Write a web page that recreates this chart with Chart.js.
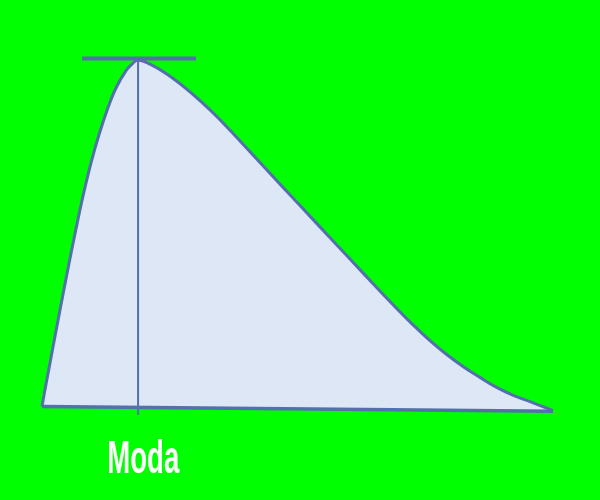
<!DOCTYPE html>
<html>
<head>
<meta charset="utf-8">
<script src="https://cdn.jsdelivr.net/npm/chart.js@4/dist/chart.umd.min.js"></script>
<style>
  html, body { margin: 0; padding: 0; background: #00ff00; }
  #wrap { width: 600px; height: 500px; }
</style>
</head>
<body>
<div id="wrap"><canvas id="chart"></canvas></div>
<script>
// Skewed distribution (x: value, y: relative density, peak = 100)
const curveX = [0, 0.045, 0.143, 0.274, 0.405, 0.534, 0.665, 0.796, 0.959, 1.121,
                1.286, 1.448, 1.644, 1.761, 1.879,
                2.178, 2.505, 2.831, 3.156, 3.419, 3.744, 4.397, 5.049, 5.701,
                6.354, 6.941, 7.266, 7.593, 7.920, 8.245, 8.571, 8.898, 9.223,
                9.550, 10.0];
const curveY = [0, 3.75, 11.5, 21.8, 31.9, 41.7, 51.2, 60.3, 70.3, 78.7,
                86.0, 91.9, 96.9, 98.8, 100,
                98.3, 95.3, 91.6, 87.4, 83.7, 78.7, 68.3, 58.0, 47.7,
                37.4, 28.3, 23.5, 19.0, 15.0, 11.5, 8.4, 5.5, 3.2,
                1.4, -1.2];

// baseline of the shape (slightly tilted in the original)
const baseX = [0, 10.0];
const baseY = [0, -1.35];

// mode marker
const modeX = 1.88;
const modePeak = 100;
const modeFoot = -2.45;
const tangentX = [0.783, 3.014];
const tangentY = 100.4;
const modeLabel = 'Moda';
const labelX = 1.982;
const labelBase = -19.1;

const STROKE = '#5470ac';
const FILL = '#dde7f5';

const pts = (xs, ys) => xs.map((x, i) => ({ x, y: Array.isArray(ys) ? ys[i] : ys }));

const labelPlugin = {
  id: 'modaLabel',
  afterDraw(chart) {
    const { ctx, scales } = chart;
    const px = scales.x.getPixelForValue(labelX);
    const py = scales.y.getPixelForValue(labelBase);
    ctx.save();
    ctx.font = 'bold 32px "Liberation Sans Narrow", "Liberation Sans", Arial, sans-serif';
    const w = ctx.measureText(modeLabel).width;
    ctx.translate(px, py);
    ctx.scale(72 / w, 1.46);
    ctx.fillStyle = '#ffffff';
    ctx.textAlign = 'center';
    ctx.textBaseline = 'alphabetic';
    ctx.fillText(modeLabel, 0, 0);
    ctx.restore();
  }
};

new Chart(document.getElementById('chart'), {
  type: 'scatter',
  data: {
    datasets: [
      {
        data: pts(curveX, curveY),
        showLine: true,
        borderColor: STROKE,
        borderWidth: 3,
        backgroundColor: FILL,
        fill: '+1',
        pointRadius: 0,
        tension: 0.4,
      },
      {
        data: pts(baseX, baseY),
        showLine: true,
        borderColor: STROKE,
        borderWidth: 3.5,
        pointRadius: 0,
        fill: false,
      },
      {
        data: pts([modeX, modeX], [modePeak, modeFoot]),
        showLine: true,
        borderColor: STROKE,
        borderWidth: 2,
        pointRadius: 0,
        fill: false,
      },
      {
        data: pts(tangentX, tangentY),
        showLine: true,
        borderColor: STROKE,
        borderWidth: 4,
        pointRadius: 0,
        fill: false,
      },
    ],
  },
  options: {
    responsive: true,
    maintainAspectRatio: false,
    animation: false,
    layout: { padding: 0 },
    plugins: {
      legend: { display: false },
      tooltip: { enabled: false },
      filler: { drawTime: 'beforeDatasetsDraw' },
    },
    scales: {
      x: { type: 'linear', display: false, min: -0.822, max: 10.92 },
      y: { type: 'linear', display: false, min: -26.98, max: 117.3 },
    },
  },
  plugins: [labelPlugin],
});
</script>
</body>
</html>
